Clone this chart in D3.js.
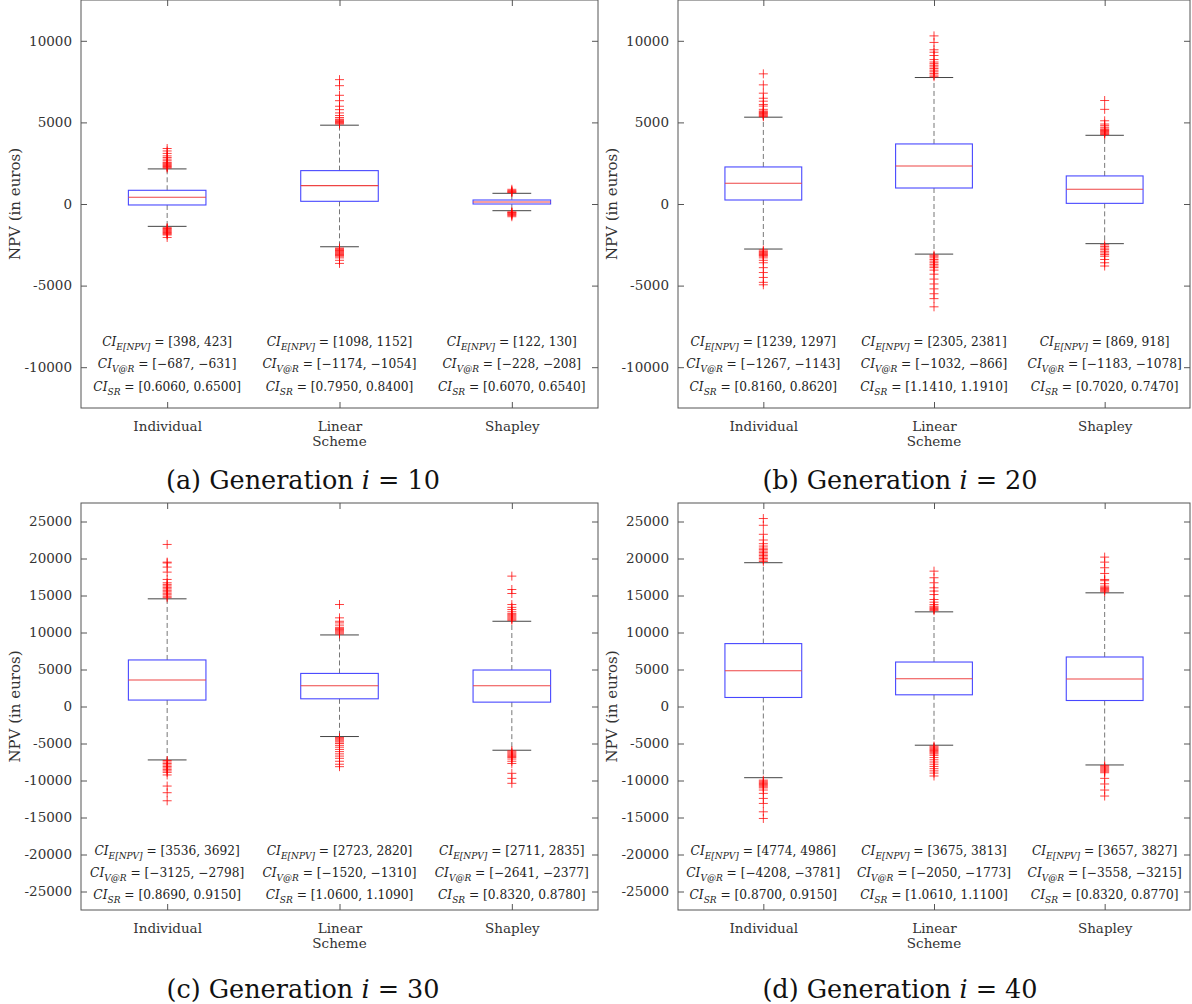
<!DOCTYPE html>
<html>
<head>
<meta charset="utf-8">
<script src="https://cdn.jsdelivr.net/npm/d3@7"></script>
<style>
  body { margin: 0; background: #fff; }
  svg text { font-family: "DejaVu Serif", "Liberation Serif", serif; }
</style>
</head>
<body>
<svg id="chart"></svg>
<script>
// categories
const schemes = ["Individual", "Linear", "Shapley"];

// box stats per scheme: [lower whisker, q1, median, q3, upper whisker]
const box10 = [[-1370, -60, 410, 840, 2150], [-2620, 165, 1125, 2045, 4830], [-410, 0, 120, 245, 655]];
const box20 = [[-2760, 245, 1270, 2270, 5320], [-3070, 980, 2330, 3680, 7750], [-2430, 40, 900, 1720, 4210]];
const box30 = [[-7220, 870, 3580, 6290, 14550], [-4060, 1040, 2800, 4470, 9670], [-5910, 590, 2800, 4930, 11520]];
const box40 = [[-9620, 1220, 4840, 8500, 19430], [-5230, 1580, 3750, 6010, 12790], [-7900, 810, 3710, 6690, 15360]];

// outliers above / below the whiskers
const high10 = [[2200, 2250, 2300, 2350, 2400, 2450, 2500, 2550, 2650, 2750, 2850, 2950, 3100, 3250, 3400],
                [4900, 4950, 5000, 5050, 5100, 5150, 5200, 5300, 5420, 5580, 5780, 5990, 6330, 6660, 7250, 7620],
                [700, 740, 780, 820, 900]];
const low10 = [[-1450, -1500, -1550, -1600, -1650, -1700, -1750, -1800, -1850, -1900, -2050],
               [-2700, -2750, -2800, -2850, -2900, -2950, -3000, -3050, -3100, -3150, -3200, -3300, -3450, -3640],
               [-480, -520, -560, -600, -650, -700, -780]];
const high20 = [[5350, 5400, 5450, 5500, 5550, 5600, 5650, 5700, 5800, 6000, 6100, 6300, 6480, 6790, 7300, 7975],
                [7800, 7900, 8000, 8100, 8200, 8300, 8400, 8500, 8600, 8700, 8850, 9100, 9300, 9450, 9900, 10300],
                [4250, 4300, 4350, 4400, 4450, 4500, 4550, 4600, 4700, 4800, 4900, 5100, 5800, 6340]];
const low20 = [[-2820, -2900, -2950, -3000, -3050, -3100, -3150, -3200, -3300, -3450, -3600, -3900, -4200, -4500, -4800, -4950],
               [-3130, -3200, -3300, -3400, -3500, -3600, -3700, -3800, -3900, -4050, -4300, -4600, -4900, -5200, -5500, -5800, -6300],
               [-2500, -2600, -2700, -2800, -2900, -3000, -3100, -3200, -3400, -3600, -3800]];
const high30 = [[14700, 14900, 15100, 15300, 15500, 15700, 15900, 16100, 16300, 16500, 16720, 17170, 18160, 18840, 19400, 19510, 21900],
                [9800, 9950, 10100, 10250, 10400, 10550, 10700, 11000, 11300, 11520, 11980, 13780],
                [11650, 11800, 11950, 12100, 12250, 12400, 12550, 12800, 13100, 13400, 13780, 15270, 15810, 17620]];
const low30 = [[-7300, -7500, -7700, -7900, -8100, -8300, -8500, -8700, -8900, -9250, -10750, -11650, -12740],
               [-4200, -4350, -4500, -4650, -4800, -5000, -5250, -5500, -5800, -6100, -6400, -6700, -7000, -7400, -7800, -8130],
               [-6000, -6150, -6300, -6450, -6600, -6750, -6900, -7100, -7400, -7700, -9030, -9710, -10380]];
const high40 = [[19600, 19800, 20000, 20200, 20400, 20600, 20800, 21000, 21200, 21400, 21680, 22000, 22500, 23270, 24490, 25400],
                [12950, 13100, 13250, 13400, 13550, 13780, 14100, 14460, 15130, 15600, 16040, 16720, 17400, 18290],
                [15500, 15650, 15800, 15950, 16100, 16270, 16600, 17000, 17170, 17980, 18750, 19510, 20190]];
const low40 = [[-9950, -10100, -10250, -10400, -10550, -10700, -10850, -11000, -11290, -11740, -12420, -13100, -14230, -15130],
               [-5350, -5500, -5650, -5800, -5950, -6100, -6250, -6400, -6600, -6900, -7200, -7500, -7800, -8100, -8400, -8700, -9000, -9390],
               [-8000, -8150, -8300, -8450, -8600, -8750, -8950, -9710, -10470, -11290, -12100]];

// confidence intervals
const ciE10 = [[398, 423], [1098, 1152], [122, 130]];
const ciV10 = [[-687, -631], [-1174, -1054], [-228, -208]];
const ciS10 = [[0.6060, 0.6500], [0.7950, 0.8400], [0.6070, 0.6540]];
const ciE20 = [[1239, 1297], [2305, 2381], [869, 918]];
const ciV20 = [[-1267, -1143], [-1032, -866], [-1183, -1078]];
const ciS20 = [[0.8160, 0.8620], [1.1410, 1.1910], [0.7020, 0.7470]];
const ciE30 = [[3536, 3692], [2723, 2820], [2711, 2835]];
const ciV30 = [[-3125, -2798], [-1520, -1310], [-2641, -2377]];
const ciS30 = [[0.8690, 0.9150], [1.0600, 1.1090], [0.8320, 0.8780]];
const ciE40 = [[4774, 4986], [3675, 3813], [3657, 3827]];
const ciV40 = [[-4208, -3781], [-2050, -1773], [-3558, -3215]];
const ciS40 = [[0.8700, 0.9150], [1.0610, 1.1100], [0.8320, 0.8770]];

// axis settings
const domainSmall = [-12500, 12500];
const domainLarge = [-27500, 27500];
const ticksSmall = [-10000, -5000, 0, 5000, 10000];
const ticksLarge = [-25000, -20000, -15000, -10000, -5000, 0, 5000, 10000, 15000, 20000, 25000];
const captions = [["a", 10], ["b", 20], ["c", 30], ["d", 40]];

const FONT = '"DejaVu Serif", "Liberation Serif", serif';

const svg = d3.select("#chart").attr("width", 1192).attr("height", 1004);

const panels = [
    {left: 81, right: 598, top: 0, bottom: 408, box: box10, high: high10, low: low10, ci: [ciE10, ciV10, ciS10], domain: domainSmall, ticks: ticksSmall, textOff: [62, 40, 17], capX: 303, capY: 489},
    {left: 678, right: 1190, top: 0, bottom: 408, box: box20, high: high20, low: low20, ci: [ciE20, ciV20, ciS20], domain: domainSmall, ticks: ticksSmall, textOff: [62, 40, 17], capX: 900, capY: 489},
    {left: 81, right: 598, top: 503, bottom: 910, box: box30, high: high30, low: low30, ci: [ciE30, ciV30, ciS30], domain: domainLarge, ticks: ticksLarge, textOff: [55, 33, 11], capX: 303, capY: 998},
    {left: 678, right: 1190, top: 503, bottom: 910, box: box40, high: high40, low: low40, ci: [ciE40, ciV40, ciS40], domain: domainLarge, ticks: ticksLarge, textOff: [55, 33, 11], capX: 900, capY: 998}
];

const fmtInt = v => (v < 0 ? "\u2212" + Math.abs(v) : String(v));
const fmtDec = v => v.toFixed(4);
const subs = ["E[NPV]", "V@R", "SR"];

panels.forEach((p, pi) => {
    const g = svg.append("g");
    const x = d3.scalePoint().domain(schemes).range([p.left, p.right]).padding(0.5);
    const y = d3.scaleLinear().domain(p.domain).range([p.bottom, p.top]);
    const boxW = (p.right - p.left) * 0.15;
    const tickLen = 6;

    // frame
    g.append("rect")
        .attr("x", p.left).attr("y", p.top)
        .attr("width", p.right - p.left).attr("height", p.bottom - p.top)
        .attr("fill", "none").attr("stroke", "#555").attr("stroke-width", 1);

    // y ticks, left & right
    const yAxisL = d3.axisLeft(y).tickValues(p.ticks).tickSizeInner(-tickLen).tickSizeOuter(0).tickPadding(9).tickFormat(d => String(d));
    const yl = g.append("g").attr("transform", `translate(${p.left},0)`).call(yAxisL);
    yl.select(".domain").remove();
    yl.selectAll("line").attr("stroke", "#555");
    yl.selectAll("text").attr("font-size", 13.5).attr("fill", "#333").attr("font-family", FONT);

    const yAxisR = d3.axisRight(y).tickValues(p.ticks).tickSizeInner(-tickLen).tickSizeOuter(0).tickFormat("");
    const yr = g.append("g").attr("transform", `translate(${p.right},0)`).call(yAxisR);
    yr.select(".domain").remove();
    yr.selectAll("line").attr("stroke", "#555");

    // x ticks, bottom & top
    const xAxisB = d3.axisBottom(x).tickSizeInner(-tickLen).tickSizeOuter(0).tickPadding(13);
    const xb = g.append("g").attr("transform", `translate(0,${p.bottom})`).call(xAxisB);
    xb.select(".domain").remove();
    xb.selectAll("line").attr("stroke", "#555");
    xb.selectAll("text").attr("font-size", 13.5).attr("fill", "#333").attr("font-family", FONT);

    const xAxisT = d3.axisTop(x).tickSizeInner(-tickLen).tickSizeOuter(0).tickFormat("");
    const xt = g.append("g").attr("transform", `translate(0,${p.top})`).call(xAxisT);
    xt.select(".domain").remove();
    xt.selectAll("line").attr("stroke", "#555");

    // axis titles
    g.append("text")
        .attr("x", (p.left + p.right) / 2).attr("y", p.bottom + 38)
        .attr("text-anchor", "middle").attr("font-size", 13.5).attr("fill", "#333")
        .text("Scheme");
    g.append("text")
        .attr("transform", `translate(${p.left - 61},${y(0)}) rotate(-90)`)
        .attr("text-anchor", "middle").attr("font-size", 15).attr("fill", "#333")
        .text("NPV (in euros)");

    // boxes
    schemes.forEach((s, i) => {
        const [lw, q1, med, q3, uw] = p.box[i];
        const cx = x(s);
        // whiskers
        g.append("line").attr("x1", cx).attr("x2", cx).attr("y1", y(q3)).attr("y2", y(uw))
            .attr("stroke", "#777").attr("stroke-dasharray", "5,3");
        g.append("line").attr("x1", cx).attr("x2", cx).attr("y1", y(q1)).attr("y2", y(lw))
            .attr("stroke", "#777").attr("stroke-dasharray", "5,3");
        // caps
        [lw, uw].forEach(v => {
            g.append("line").attr("x1", cx - boxW / 4).attr("x2", cx + boxW / 4)
                .attr("y1", y(v)).attr("y2", y(v)).attr("stroke", "#444");
        });
        // box
        g.append("rect").attr("x", cx - boxW / 2).attr("y", y(q3))
            .attr("width", boxW).attr("height", y(q1) - y(q3))
            .attr("fill", "none").attr("stroke", "#4848ff").attr("stroke-width", 1.1);
        g.append("line").attr("x1", cx - boxW / 2).attr("x2", cx + boxW / 2)
            .attr("y1", y(med)).attr("y2", y(med)).attr("stroke", "#e44").attr("stroke-width", 1.1);

        // outliers
        const outs = p.high[i].concat(p.low[i]);
        g.append("g").selectAll("path").data(outs).join("path")
            .attr("d", d => `M${cx - 4.5},${y(d)}H${cx + 4.5}M${cx},${y(d) - 4.5}V${y(d) + 4.5}`)
            .attr("stroke", "#f00").attr("stroke-width", 1).attr("stroke-opacity", 0.75).attr("fill", "none");

        // CI text
        p.ci.forEach((arr, k) => {
            const [a, b] = arr[i];
            const f = k === 2 ? fmtDec : fmtInt;
            const t = g.append("text")
                .attr("x", cx).attr("y", p.bottom - p.textOff[k])
                .attr("text-anchor", "middle").attr("font-size", 12.2).attr("fill", "#222");
            t.append("tspan").attr("font-style", "italic").text("CI");
            t.append("tspan").attr("font-style", "italic").attr("font-size", 9).attr("dy", 3.5).text(subs[k]);
            t.append("tspan").attr("dy", -3.5).text(` = [${f(a)}, ${f(b)}]`);
        });
    });

    // caption
    const cap = svg.append("text")
        .attr("x", p.capX).attr("y", p.capY)
        .attr("text-anchor", "middle").attr("font-size", 25.5).attr("fill", "#111");
    cap.append("tspan").text(`(${captions[pi][0]}) Generation `);
    cap.append("tspan").attr("font-style", "italic").text("i");
    cap.append("tspan").text(` = ${captions[pi][1]}`);
});
</script>
</body>
</html>
